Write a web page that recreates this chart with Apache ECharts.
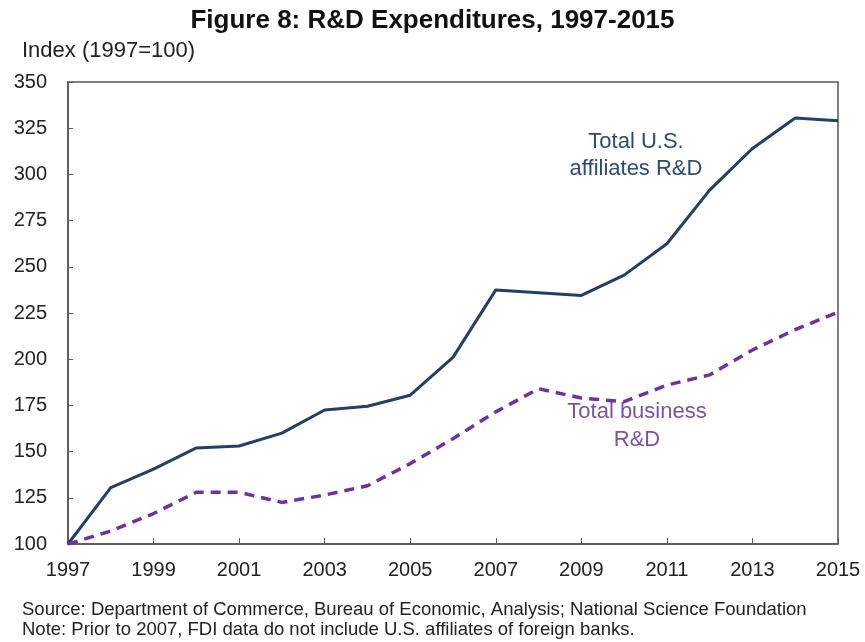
<!DOCTYPE html>
<html>
<head>
<meta charset="utf-8">
<script src="https://cdn.jsdelivr.net/npm/echarts@6/dist/echarts.min.js"></script>
<style>
  html, body { margin: 0; padding: 0; background: #fff; }
  #chart { width: 865px; height: 642px; }
</style>
</head>
<body>
<div id="chart"></div>
<script>
var years = ['1997','1998','1999','2000','2001','2002','2003','2004','2005','2006',
             '2007','2008','2009','2010','2011','2012','2013','2014','2015'];
var affiliatesRD = [100, 130.5, 140.5, 152, 153, 160, 172.5, 174.5, 180.5, 201,
                    237.5, 236, 234.5, 245.5, 262.5, 291.5, 314, 330.5, 329];
var businessRD = [100, 107, 116.5, 128, 128, 122.5, 126.5, 131.5, 143.5, 157,
                  171.5, 184, 179, 177, 186, 191.5, 205, 216, 225.5];

var font = 'Liberation Sans, Arial, sans-serif';
var chart = echarts.init(document.getElementById('chart'));
chart.setOption({
  backgroundColor: '#fff',
  animation: false,
  title: {
    text: 'Figure 8: R&D Expenditures, 1997-2015',
    left: 'center',
    top: 3,
    textStyle: { fontFamily: font, fontSize: 26, fontWeight: 'bold', color: '#111' }
  },
  grid: {
    left: 68, right: 27, top: 82, bottom: 98,
    show: true, borderColor: '#555', borderWidth: 1.5
  },
  xAxis: {
    type: 'category',
    data: years,
    boundaryGap: false,
    axisLine: { lineStyle: { color: '#555', width: 1.5 } },
    axisTick: { inside: true, interval: 1, length: 6, lineStyle: { color: '#555' } },
    axisLabel: { interval: 1, margin: 16, fontFamily: font, fontSize: 20, color: '#222' },
    splitLine: { show: false }
  },
  yAxis: {
    type: 'value',
    min: 100, max: 350, interval: 25,
    axisLine: { show: true, lineStyle: { color: '#555', width: 1.5 } },
    axisTick: { show: true, inside: true, length: 5, lineStyle: { color: '#555' } },
    axisLabel: { margin: 21, fontFamily: font, fontSize: 20, color: '#222' },
    splitLine: { show: false }
  },
  series: [
    {
      name: 'Total U.S. affiliates R&D',
      type: 'line',
      data: affiliatesRD,
      symbol: 'none',
      lineStyle: { color: '#243f66', width: 3 }
    },
    {
      name: 'Total business R&D',
      type: 'line',
      data: businessRD,
      symbol: 'none',
      lineStyle: { color: '#7030a0', width: 3.5, type: [10, 7] }
    }
  ],
  graphic: [
    { type: 'text', x: 22, y: 51,
      style: { text: 'Index (1997=100)', font: '22px ' + font, fill: '#222',
               verticalAlign: 'middle' } },
    { type: 'text', x: 636, y: 155,
      style: { text: 'Total U.S.\naffiliates R&D', font: '22px ' + font, fill: '#2f4a78',
               align: 'center', verticalAlign: 'middle', lineHeight: 27 } },
    { type: 'text', x: 637, y: 426,
      style: { text: 'Total business\nR&D', font: '22px ' + font, fill: '#7a52aa',
               align: 'center', verticalAlign: 'middle', lineHeight: 28 } },
    { type: 'text', x: 22, y: 620,
      style: { text: 'Source: Department of Commerce, Bureau of Economic, Analysis; National Science Foundation\nNote: Prior to 2007, FDI data do not include U.S. affiliates of foreign banks.',
               font: '18.5px ' + font, fill: '#222', verticalAlign: 'middle', lineHeight: 20 } }
  ]
});
</script>
</body>
</html>
